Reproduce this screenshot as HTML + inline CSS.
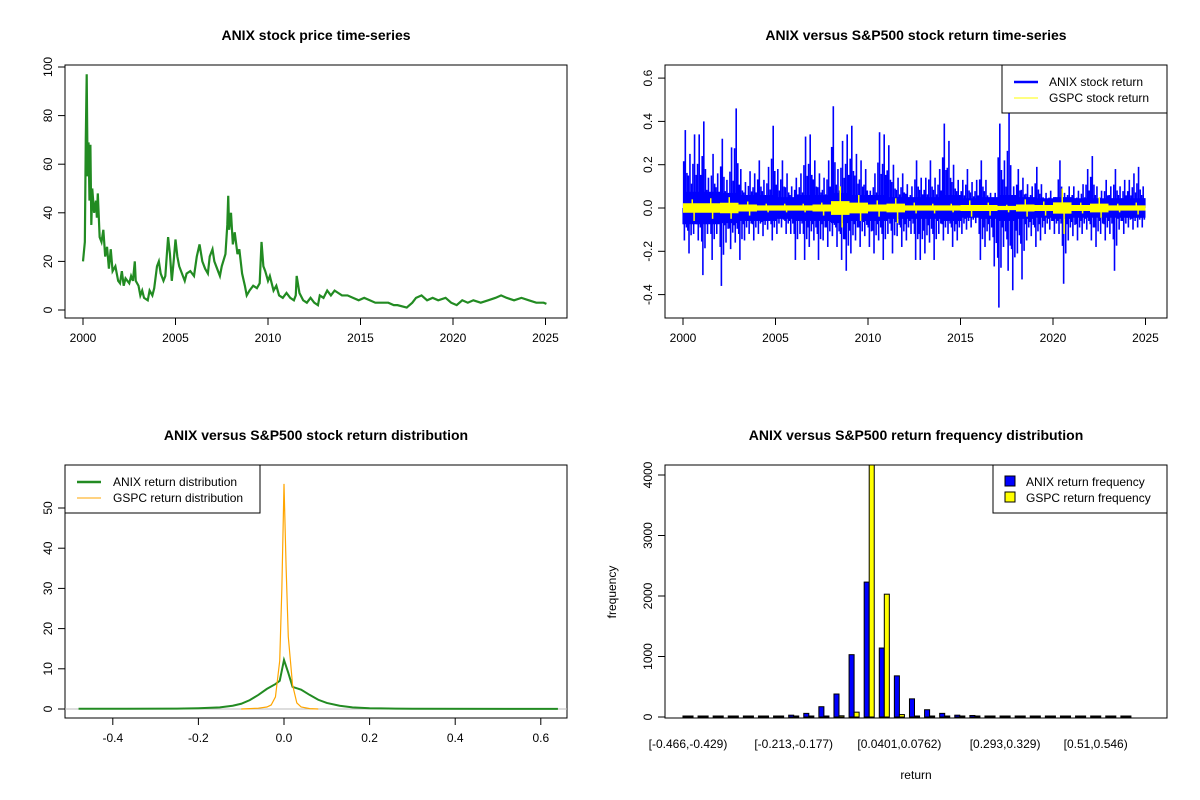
<!DOCTYPE html>
<html><head><meta charset="utf-8"><style>
body{margin:0;background:#fff;}
svg{display:block;font-family:"Liberation Sans",Arial,sans-serif;}
</style></head><body>
<svg id="s" width="1200" height="800" viewBox="0 0 1200 800">
<rect width="1200" height="800" fill="#fff"/>
<text x="316" y="40" text-anchor="middle" font-size="14" font-weight="bold">ANIX stock price time-series</text>
<text x="916" y="40" text-anchor="middle" font-size="14" font-weight="bold">ANIX versus S&amp;P500 stock return time-series</text>
<text x="316" y="440" text-anchor="middle" font-size="14" font-weight="bold">ANIX versus S&amp;P500 stock return distribution</text>
<text x="916" y="440" text-anchor="middle" font-size="14" font-weight="bold">ANIX versus S&amp;P500 return frequency distribution</text>
<text x="916" y="779" text-anchor="middle" font-size="12">return</text>
<text transform="translate(616,592) rotate(-90)" text-anchor="middle" font-size="12">frequency</text>
</svg>
<script>
// ---- panel 1: price ----
const priceDates=[2000.0,2000.1,2000.15,2000.2,2000.25,2000.3,2000.35,2000.4,2000.45,2000.5,2000.6,2000.7,2000.75,2000.8,2000.9,2001.0,2001.1,2001.2,2001.3,2001.4,2001.5,2001.6,2001.75,2001.9,2002.0,2002.1,2002.2,2002.3,2002.5,2002.6,2002.7,2002.8,2002.85,2003.0,2003.1,2003.2,2003.3,2003.5,2003.6,2003.75,2003.85,2004.0,2004.1,2004.2,2004.35,2004.45,2004.6,2004.7,2004.8,2004.9,2005.0,2005.1,2005.2,2005.4,2005.5,2005.6,2005.8,2006.0,2006.15,2006.3,2006.45,2006.6,2006.75,2006.85,2007.0,2007.1,2007.25,2007.4,2007.5,2007.7,2007.8,2007.85,2007.9,2008.0,2008.1,2008.2,2008.35,2008.45,2008.6,2008.75,2008.85,2009.0,2009.2,2009.4,2009.55,2009.65,2009.75,2009.85,2010.0,2010.1,2010.3,2010.45,2010.6,2010.8,2011.0,2011.2,2011.4,2011.5,2011.55,2011.7,2011.9,2012.1,2012.3,2012.5,2012.7,2012.8,2013.0,2013.2,2013.4,2013.6,2013.8,2014.0,2014.3,2014.6,2014.9,2015.2,2015.5,2015.8,2016.0,2016.5,2016.8,2017.0,2017.5,2017.8,2018.0,2018.3,2018.6,2018.9,2019.2,2019.6,2019.9,2020.2,2020.5,2020.8,2021.1,2021.5,2021.9,2022.3,2022.6,2022.9,2023.3,2023.7,2024.1,2024.5,2024.9,2025.05];
const priceValues=[20,28,70,97,55,69,45,68,35,50,40,45,38,48,30,28,33,22,26,17,25,16,18,12,11,16,10,13,11,14,12,20,12,10,6,8,5,4,8,6,9,18,20,15,12,14,30,23,12,20,29,22,18,14,12,15,16,14,22,27,20,17,15,22,25,20,17,14,18,23,35,47,33,40,27,32,23,25,15,10,6,8,10,9,11,28,18,16,12,14,8,10,6,5,7,5,4,6,14,7,4,3,5,3,2,6,5,8,6,8,7,6,6,5,4,5,4,3,3,3,2,2,1,3,5,6,4,5,4,5,3,2,4,3,4,3,4,5,6,5,4,5,4,3,3,2.5];
const priceYTicks=[0,20,40,60,80,100];
const yearTicks=[2000,2005,2010,2015,2020,2025];
// ---- panel 2: returns (quarterly extremes, yearly bands) ----
const anixHi=[0.36,0.25,0.34,0.34,0.40,0.14,0.25,0.16,0.32,0.13,0.28,0.46,0.18,0.12,0.17,0.16,0.22,0.13,0.19,0.38,0.18,0.22,0.16,0.10,0.14,0.16,0.33,0.34,0.22,0.16,0.14,0.22,0.47,0.18,0.31,0.34,0.38,0.25,0.22,0.18,0.08,0.16,0.35,0.34,0.29,0.20,0.14,0.16,0.11,0.10,0.22,0.14,0.14,0.22,0.14,0.18,0.39,0.31,0.20,0.13,0.13,0.18,0.12,0.13,0.22,0.13,0.07,0.07,0.39,0.22,0.44,0.10,0.18,0.14,0.11,0.10,0.19,0.11,0.07,0.08,0.05,0.22,0.07,0.10,0.10,0.08,0.11,0.18,0.24,0.10,0.08,0.13,0.10,0.18,0.10,0.13,0.13,0.16,0.19,0.10];
const anixLo=[-0.15,-0.21,-0.12,-0.15,-0.31,-0.12,-0.24,-0.12,-0.36,-0.16,-0.19,-0.16,-0.24,-0.15,-0.12,-0.15,-0.12,-0.13,-0.10,-0.15,-0.12,-0.09,-0.12,-0.12,-0.24,-0.12,-0.24,-0.18,-0.15,-0.24,-0.15,-0.18,-0.13,-0.18,-0.24,-0.29,-0.21,-0.15,-0.18,-0.13,-0.18,-0.21,-0.15,-0.24,-0.12,-0.21,-0.13,-0.18,-0.15,-0.12,-0.24,-0.24,-0.21,-0.16,-0.24,-0.12,-0.15,-0.12,-0.18,-0.15,-0.12,-0.10,-0.09,-0.07,-0.24,-0.18,-0.15,-0.27,-0.46,-0.18,-0.29,-0.38,-0.21,-0.33,-0.15,-0.13,-0.18,-0.15,-0.12,-0.10,-0.12,-0.12,-0.35,-0.15,-0.13,-0.15,-0.12,-0.10,-0.15,-0.18,-0.12,-0.15,-0.12,-0.29,-0.10,-0.12,-0.09,-0.10,-0.09,-0.09];
const anixBand=[0.075,0.075,0.07,0.06,0.06,0.05,0.06,0.06,0.07,0.06,0.06,0.05,0.05,0.05,0.06,0.045,0.05,0.06,0.05,0.045,0.05,0.045,0.045,0.045,0.045];
const gspcHi=[0.04,0.045,0.05,0.03,0.02,0.02,0.02,0.025,0.10,0.06,0.035,0.045,0.025,0.02,0.02,0.035,0.025,0.015,0.04,0.03,0.09,0.025,0.05,0.02,0.025];
const gspcLo=[-0.06,-0.05,-0.05,-0.035,-0.02,-0.02,-0.02,-0.035,-0.09,-0.06,-0.04,-0.07,-0.025,-0.025,-0.02,-0.04,-0.035,-0.02,-0.04,-0.035,-0.12,-0.025,-0.045,-0.02,-0.03];
const gspcBand=[0.022,0.022,0.024,0.016,0.012,0.012,0.012,0.016,0.032,0.025,0.016,0.02,0.012,0.012,0.012,0.014,0.014,0.01,0.016,0.014,0.026,0.014,0.02,0.012,0.012];
const retYTicks=[-0.4,-0.2,0.0,0.2,0.4,0.6];
// ---- panel 3: densities ----
const anixDenX=[-0.48,-0.25,-0.2,-0.15,-0.12,-0.1,-0.08,-0.06,-0.04,-0.02,-0.01,0,0.01,0.02,0.04,0.06,0.08,0.1,0.13,0.16,0.2,0.26,0.3,0.64];
const anixDenY=[0.05,0.1,0.2,0.4,0.8,1.3,2.2,3.5,5,6.2,7,12.2,9,5.5,4.8,3.5,2.3,1.5,0.8,0.4,0.2,0.1,0.05,0.02];
const gspcDenX=[-0.1,-0.08,-0.06,-0.04,-0.03,-0.02,-0.01,-0.005,0,0.005,0.01,0.02,0.03,0.04,0.06,0.08];
const gspcDenY=[0,0.1,0.2,0.5,1,3,12,30,56,35,18,6,1.5,0.5,0.1,0];
const denXTicks=[-0.4,-0.2,0.0,0.2,0.4,0.6];
const denYTicks=[0,10,20,30,40,50];
// ---- panel 4: histogram ----
const binLabels=["[-0.466,-0.429)","[-0.213,-0.177)","[0.0401,0.0762)","[0.293,0.329)","[0.51,0.546)"];
const binLabelIdx=[0,7,14,21,27];
const anixFreq=[0,0,0,0,0,12,15,30,60,170,380,1030,2230,1140,680,300,120,60,30,25,15,12,12,10,0,0,0,0,0,0];
const gspcFreq=[0,0,0,0,0,0,0,0,2,5,20,80,4500,2030,40,5,0,0,0,0,0,0,0,0,0,0,0,0,0,0];
const freqYTicks=[0,1000,2000,3000,4000];

const NS="http://www.w3.org/2000/svg";
const svg=document.getElementById('s');
function mk(tag,attrs,parent){const e=document.createElementNS(NS,tag);for(const k in attrs)e.setAttribute(k,attrs[k]);(parent||svg).appendChild(e);return e;}
function xAxis(ticks,sx,y,labels,name){
  const g=mk('g',{});
  
  
  mk('line',{x1:sx(ticks[0]),x2:sx(ticks[ticks.length-1]),y1:y,y2:y,stroke:'#000'},g);
  ticks.forEach((t,i)=>{const x=sx(t);
    mk('line',{x1:x,x2:x,y1:y,y2:y+7,stroke:'#000'},g);
    const tx=mk('text',{x:x,y:y+24,'text-anchor':'middle','font-size':12},g);tx.textContent=labels[i];});
}
function yAxis(ticks,sy,x,labels,name){
  const g=mk('g',{});
  
  
  mk('line',{x1:x,x2:x,y1:sy(ticks[0]),y2:sy(ticks[ticks.length-1]),stroke:'#000'},g);
  ticks.forEach((t,i)=>{const y=sy(t);
    mk('line',{x1:x-7,x2:x,y1:y,y2:y,stroke:'#000'},g);
    const tx=mk('text',{transform:`translate(${x-13},${y}) rotate(-90)`,'text-anchor':'middle','font-size':12},g);tx.textContent=labels[i];});
}
function box(x,y,w,h,name){const r=mk('rect',{x:x,y:y,width:w,height:h,fill:'none',stroke:'#000'});
  
  }
function bandPts(band,sx,sy){const up=[],dn=[];
  band.forEach((b,i)=>{up.push(sx(2000+i)+','+sy(b),sx(2000+i+1)+','+sy(b));});
  for(let i=band.length-1;i>=0;i--){dn.push(sx(2000+i+1)+','+sy(-band[i]),sx(2000+i)+','+sy(-band[i]));}
  return up.concat(dn).join(' ');}

// Panel 1
{const sx=v=>83+(v-2000)*18.5, sy=v=>310-v*2.43;
 box(65,65,502,253,'price-plot-box');
 xAxis(yearTicks,sx,318,yearTicks.map(String),'price-x-axis');
 yAxis(priceYTicks,sy,65,priceYTicks.map(String),'price-y-axis');
 const p=mk('polyline',{points:priceDates.map((d,i)=>sx(d)+','+sy(priceValues[i])).join(' '),fill:'none',stroke:'#228B22','stroke-width':2.2});
 
 }

// Panel 2
{const sx=v=>683+(v-2000)*18.5, sy=v=>208-v*216.5;
 box(665,65,502,253,'return-plot-box');
 xAxis(yearTicks,sx,318,yearTicks.map(String),'return-x-axis');
 yAxis(retYTicks,sy,665,retYTicks.map(v=>v.toFixed(1)),'return-y-axis');
 const g=mk('g',{});
 
 
 mk('polygon',{points:bandPts(anixBand,sx,sy),fill:'#0000FF'},g);
 const W=1.6;
 anixHi.forEach((v,i)=>{const x=sx(2000+(i+0.5)/4);mk('line',{x1:x,x2:x,y1:sy(0),y2:sy(v),stroke:'#0000FF','stroke-width':W},g);});
 anixLo.forEach((v,i)=>{const x=sx(2000+(i+0.3)/4);mk('line',{x1:x,x2:x,y1:sy(0),y2:sy(v),stroke:'#0000FF','stroke-width':W},g);});
 anixHi.forEach((v,i)=>{const x=sx(2000+(i+0.15)/4);mk('line',{x1:x,x2:x,y1:sy(0),y2:sy(v*0.6),stroke:'#0000FF','stroke-width':W},g);});
 anixLo.forEach((v,i)=>{const x=sx(2000+(i+0.75)/4);mk('line',{x1:x,x2:x,y1:sy(0),y2:sy(v*0.6),stroke:'#0000FF','stroke-width':W},g);});
 anixHi.forEach((v,i)=>{const x=sx(2000+(i+0.85)/4);mk('line',{x1:x,x2:x,y1:sy(0),y2:sy(v*0.45),stroke:'#0000FF','stroke-width':W},g);});
 anixLo.forEach((v,i)=>{const x=sx(2000+(i+0.05)/4);mk('line',{x1:x,x2:x,y1:sy(0),y2:sy(v*0.5),stroke:'#0000FF','stroke-width':W},g);});
 const g2=mk('g',{});
 
 
 mk('polygon',{points:bandPts(gspcBand,sx,sy),fill:'#FFFF00'},g2);
 gspcHi.forEach((v,i)=>{const x=sx(2000+i+0.5);mk('line',{x1:x,x2:x,y1:sy(0),y2:sy(v),stroke:'#FFFF00','stroke-width':1.5},g2);});
 gspcLo.forEach((v,i)=>{const x=sx(2000+i+0.6);mk('line',{x1:x,x2:x,y1:sy(0),y2:sy(v),stroke:'#FFFF00','stroke-width':1.5},g2);});
 const lg=mk('g',{});
 
 
 mk('rect',{x:1002,y:65,width:165,height:48,fill:'#fff',stroke:'#000'},lg);
 mk('line',{x1:1014,x2:1038,y1:82,y2:82,stroke:'#0000FF','stroke-width':2.5},lg);
 mk('line',{x1:1014,x2:1038,y1:98,y2:98,stroke:'#FFFF00','stroke-width':1},lg);
 let t=mk('text',{x:1049,y:86,'font-size':12},lg);t.textContent='ANIX stock return';
 t=mk('text',{x:1049,y:102,'font-size':12},lg);t.textContent='GSPC stock return';}

// Panel 3
{const sx=v=>284+v*428, sy=v=>709-v*4.02;
 box(65,465,502,253,'density-plot-box');
 xAxis(denXTicks,sx,718,denXTicks.map(v=>v.toFixed(1)),'density-x-axis');
 yAxis(denYTicks,sy,65,denYTicks.map(String),'density-y-axis');
 mk('line',{x1:65,x2:567,y1:sy(0),y2:sy(0),stroke:'#bbb'});
 let p=mk('polyline',{points:anixDenX.map((x,i)=>sx(x)+','+sy(anixDenY[i])).join(' '),fill:'none',stroke:'#228B22','stroke-width':2});
 
 
 p=mk('polyline',{points:gspcDenX.map((x,i)=>sx(x)+','+sy(gspcDenY[i])).join(' '),fill:'none',stroke:'#FFA500','stroke-width':1.2});
 
 
 const lg=mk('g',{});
 
 
 mk('rect',{x:65,y:465,width:195,height:48,fill:'#fff',stroke:'#000'},lg);
 mk('line',{x1:77,x2:101,y1:482,y2:482,stroke:'#228B22','stroke-width':2.5},lg);
 mk('line',{x1:77,x2:101,y1:498,y2:498,stroke:'#FFA500','stroke-width':1},lg);
 let t=mk('text',{x:113,y:486,'font-size':12},lg);t.textContent='ANIX return distribution';
 t=mk('text',{x:113,y:502,'font-size':12},lg);t.textContent='GSPC return distribution';}

// Panel 4
{const u=15.1/3, x0=688-2*u, sy=v=>717-v*0.0605;
 const cx=i=>x0+(3*i+2)*u;
 const clip=mk('clipPath',{id:'hc'});mk('rect',{x:665,y:465,width:502,height:253},clip);
 const g=mk('g',{'clip-path':'url(#hc)'});
 
 
 anixFreq.forEach((v,i)=>{const h=Math.max(1,sy(0)-sy(v));const r=mk('rect',{x:cx(i)-u,y:sy(0)-h,width:u,height:h,fill:'#0000FF',stroke:'#000','stroke-width':1},g);
   
   });
 gspcFreq.forEach((v,i)=>{const h=Math.max(1,sy(0)-sy(v));const r=mk('rect',{x:cx(i),y:sy(0)-h,width:u,height:h,fill:'#FFFF00',stroke:'#000','stroke-width':1},g);
   
   });
 box(665,465,502,253,'histogram-plot-box');
 yAxis(freqYTicks,sy,665,freqYTicks.map(String),'histogram-y-axis');
 binLabelIdx.forEach((b,i)=>{const t=mk('text',{x:cx(b),y:748,'text-anchor':'middle','font-size':12});t.textContent=binLabels[i];
   
   });
 const lg=mk('g',{});
 
 
 mk('rect',{x:993,y:465,width:174,height:48,fill:'#fff',stroke:'#000'},lg);
 mk('rect',{x:1005,y:476,width:10,height:10,fill:'#0000FF',stroke:'#000'},lg);
 mk('rect',{x:1005,y:492,width:10,height:10,fill:'#FFFF00',stroke:'#000'},lg);
 let t=mk('text',{x:1026,y:486,'font-size':12},lg);t.textContent='ANIX return frequency';
 t=mk('text',{x:1026,y:502,'font-size':12},lg);t.textContent='GSPC return frequency';}
</script>
</body></html>
